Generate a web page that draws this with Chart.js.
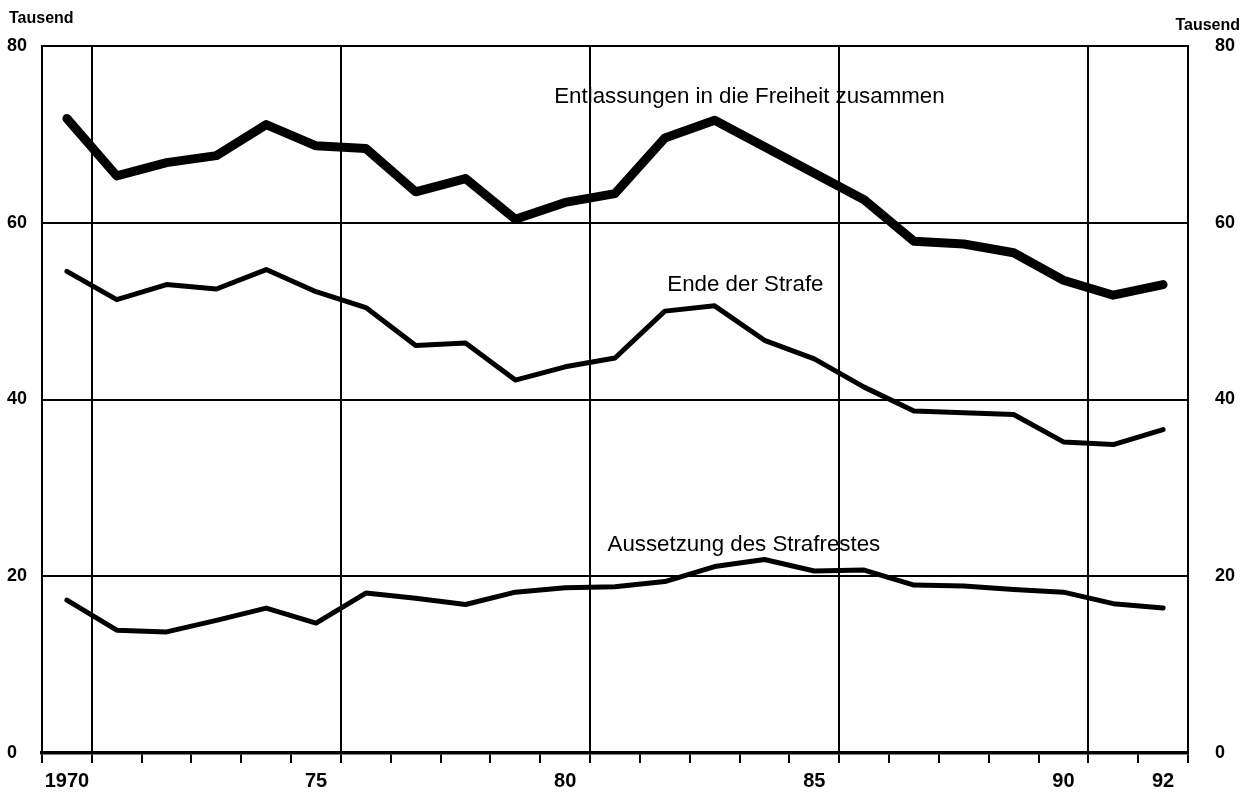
<!DOCTYPE html>
<html>
<head>
<meta charset="utf-8">
<script src="https://cdn.jsdelivr.net/npm/chart.js@4.4.1/dist/chart.umd.min.js"></script>
<style>
  html, body { margin: 0; padding: 0; background: #fff; }
  #wrap { width: 1249px; height: 794px; }
</style>
</head>
<body>
<div id="wrap"><canvas id="c" width="1249" height="794"></canvas></div>
<script>
const years = [1970,1971,1972,1973,1974,1975,1976,1977,1978,1979,1980,1981,1982,1983,1984,1985,1986,1987,1988,1989,1990,1991,1992];
const entlassungenZusammen = [71.8,65.3,66.8,67.6,71.1,68.7,68.4,63.5,65.0,60.4,62.3,63.3,69.6,71.6,68.6,65.6,62.6,57.9,57.6,56.6,53.5,51.8,53.0];
const endeDerStrafe = [54.5,51.3,53.0,52.5,54.7,52.2,50.4,46.1,46.4,42.2,43.7,44.7,50.0,50.6,46.7,44.6,41.4,38.7,38.5,38.3,35.2,34.9,36.6];
const aussetzungStrafrest = [17.3,13.9,13.7,15.0,16.4,14.7,18.1,17.5,16.8,18.2,18.7,18.8,19.4,21.1,21.9,20.6,20.7,19.0,18.9,18.5,18.2,16.9,16.4];
const xLabelYears = [1970,1975,1980,1985,1990,1992];
const xLabelTexts = ['1970','75','80','85','90','92'];
const yTicks = [0,20,40,60,80];
const unitLabel = 'Tausend';
const seriesNames = ['Entlassungen in die Freiheit zusammen','Ende der Strafe','Aussetzung des Strafrestes'];

const majorBoundaries = [1970,1975,1980,1985,1990].map(v => v + 0.5);
const FONT = '"Liberation Sans", Arial, Helvetica, sans-serif';

function pts(arr){ return years.map((y,i)=>({x:y, y:arr[i]})); }

const labelPlugin = {
  id: 'labels',
  afterDraw(chart){
    const ctx = chart.ctx, xs = chart.scales.x, ys = chart.scales.y;
    ctx.save();
    ctx.fillStyle = '#000';
    ctx.textBaseline = 'middle';
    ctx.textAlign = 'left';
    ctx.font = '22.3px ' + FONT;
    ctx.fillText(seriesNames[0], xs.getPixelForValue(1979.78), ys.getPixelForValue(74.3));
    ctx.fillText(seriesNames[1], xs.getPixelForValue(1982.05), ys.getPixelForValue(53.0));
    ctx.fillText(seriesNames[2], xs.getPixelForValue(1980.85), ys.getPixelForValue(23.5));
    ctx.font = 'bold 16px ' + FONT;
    ctx.fillText(unitLabel, 9, 19);
    ctx.textAlign = 'right';
    ctx.fillText(unitLabel, 1240, 26);
    ctx.restore();
  }
};

new Chart(document.getElementById('c'), {
  type: 'line',
  data: {
    datasets: [
      { label: seriesNames[0], data: pts(entlassungenZusammen), borderColor:'#000', borderWidth: 9, pointRadius:0, borderJoinStyle:'round', borderCapStyle:'round', tension:0 },
      { label: seriesNames[1], data: pts(endeDerStrafe), borderColor:'#000', borderWidth: 5, pointRadius:0, borderJoinStyle:'round', borderCapStyle:'round', tension:0 },
      { label: seriesNames[2], data: pts(aussetzungStrafrest), borderColor:'#000', borderWidth: 5, pointRadius:0, borderJoinStyle:'round', borderCapStyle:'round', tension:0 }
    ]
  },
  options: {
    responsive: false,
    animation: false,
    devicePixelRatio: 1,
    layout: { padding: { top: 46, left: 7, right: 0, bottom: 0 } },
    plugins: { legend: { display:false }, tooltip: { enabled:false } },
    scales: {
      x: {
        type: 'linear',
        min: years[0] - 0.5,
        max: years[years.length-1] + 0.5,
        afterBuildTicks(scale){
          const t = [];
          for (let v = years[0] - 0.5; v <= years[years.length-1] + 0.5 + 1e-9; v += 0.5) t.push({value: v});
          scale.ticks = t;
        },
        afterFit(scale){ scale.height = 41; },
        border: { display: true, color: '#000', width: 3.5 },
        grid: {
          drawOnChartArea: true,
          color: ctx => (ctx.tick && majorBoundaries.some(b => Math.abs(b - ctx.tick.value) < 1e-6)) ? '#000' : 'rgba(0,0,0,0)',
          tickColor: ctx => (ctx.tick && Math.abs(ctx.tick.value - Math.round(ctx.tick.value)) > 0.25) ? '#000' : 'rgba(0,0,0,0)',
          lineWidth: 2,
          tickWidth: 2,
          tickLength: 10
        },
        ticks: {
          autoSkip: false,
          maxRotation: 0,
          minRotation: 0,
          padding: 6,
          color: '#000',
          font: { family: FONT, size: 20, weight: 'bold' },
          callback: (v) => { const i = xLabelYears.indexOf(v); return i >= 0 ? xLabelTexts[i] : ''; }
        }
      },
      y: {
        position: 'left',
        min: 0, max: 80,
        afterBuildTicks(scale){ scale.ticks = yTicks.map(v => ({value:v})); },
        afterFit(scale){ scale.width = 35; },
        border: { display: true, color: '#000', width: 2 },
        grid: { color: '#000', lineWidth: 2, drawTicks: false },
        ticks: { crossAlign: 'far', padding: 8, color:'#000', font: { family: FONT, size: 18, weight: 'bold' } }
      },
      y2: {
        position: 'right',
        min: 0, max: 80,
        afterBuildTicks(scale){ scale.ticks = yTicks.map(v => ({value:v})); },
        afterFit(scale){ scale.width = 61; },
        border: { display: true, color: '#000', width: 2 },
        grid: { drawOnChartArea: false, drawTicks: false },
        ticks: { padding: 27, color:'#000', font: { family: FONT, size: 18, weight: 'bold' } }
      }
    }
  },
  plugins: [labelPlugin]
});
</script>
</body>
</html>
